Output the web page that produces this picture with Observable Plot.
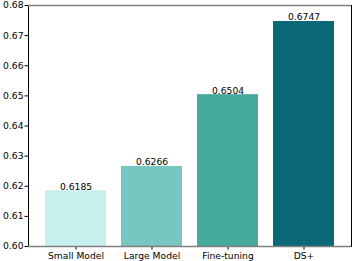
<!DOCTYPE html>
<html>
<head>
<meta charset="utf-8">
<script src="https://cdn.jsdelivr.net/npm/d3@7"></script>
<script src="https://cdn.jsdelivr.net/npm/@observablehq/plot@0.6"></script>
<style>
  html, body { margin: 0; padding: 0; background: #fff; }
  #chart svg { display: block; }
</style>
</head>
<body>
<div id="chart"></div>
<script>
const categories = ["Small Model", "Large Model", "Fine-tuning", "DS+"];
const values = [0.6185, 0.6266, 0.6504, 0.6747];
const labels = ["0.6185", "0.6266", "0.6504", "0.6747"];
const colors = ["#c7efee", "#77c6c1", "#45a99c", "#0b6876"];
const yTicks = [0.60, 0.61, 0.62, 0.63, 0.64, 0.65, 0.66, 0.67, 0.68];

const data = categories.map((c, i) => ({category: c, value: values[i], label: labels[i], color: colors[i]}));

const chart = Plot.plot({
  width: 354,
  height: 261,
  marginLeft: 28,
  marginRight: 3,
  marginTop: 5,
  marginBottom: 15,
  style: {fontFamily: "DejaVu Sans", fontSize: "9.2px", color: "#000", background: "#fff"},
  x: {domain: categories, paddingInner: 0.2, paddingOuter: 0.2, label: null},
  y: {domain: [0.60, 0.68], label: null},
  marks: [
    Plot.barY(data, {x: "category", y1: 0.60, y2: "value", fill: "color"}),
    Plot.text(data, {x: "category", y: "value", text: "label", lineAnchor: "bottom", dy: -1, fill: "#000", fontSize: 9.2}),
    Plot.axisY({ticks: yTicks, tickFormat: d3.format(".2f"), tickSize: 3.5, tickPadding: 1.5, stroke: "#000", fill: "#000"}),
    Plot.axisX({tickSize: 3.5, tickPadding: 2, stroke: "#000", fill: "#000"}),
    Plot.frame({stroke: "#000"}),
    Plot.ruleY([0.60, 0.68], {stroke: "#808080", strokeWidth: 1.3})
  ]
});
document.getElementById("chart").appendChild(chart);
</script>
</body>
</html>
